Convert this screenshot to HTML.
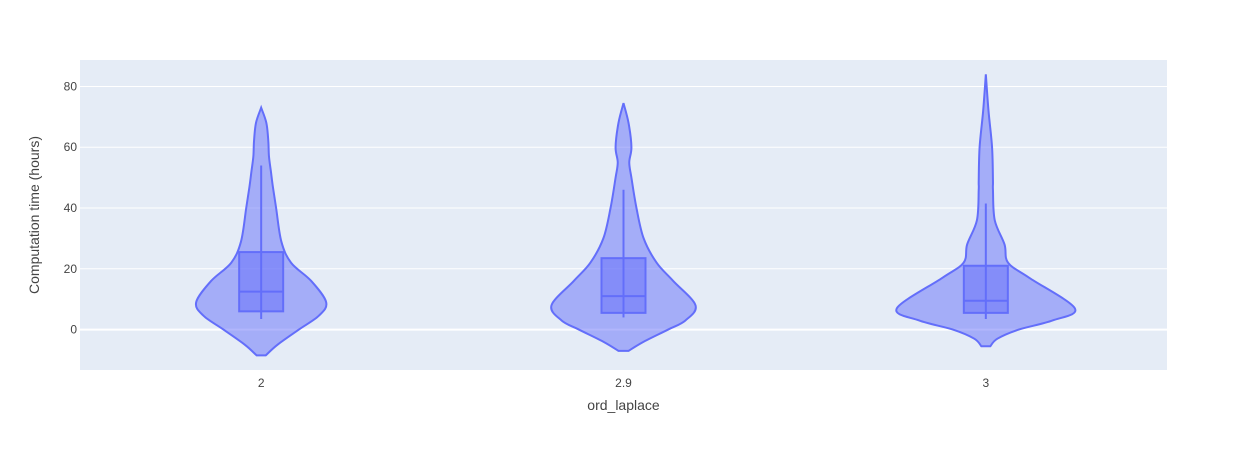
<!DOCTYPE html>
<html><head><meta charset="utf-8"><style>
body{margin:0;background:#fff;font-family:"Liberation Sans",Arial,sans-serif}
svg text{font-family:"Liberation Sans",Arial,sans-serif;fill:#444}
</style></head><body>
<svg id="chart" width="1247" height="450" xmlns="http://www.w3.org/2000/svg">
<rect x="0" y="0" width="1247" height="450" fill="#fff"/>
<rect x="80" y="60" width="1087" height="310" fill="#e5ecf6"/>
<g id="grid"></g><g id="violins"></g><g id="axes"></g>
</svg>
<script>
const categories = ["2", "2.9", "3"];
const yTicks = [0, 20, 40, 60, 80];
// density profiles: value levels and relative half-widths (0..1)
const prof2Vals = [73, 68, 62, 57, 52, 47, 40, 29, 22, 16, 9, 4.6, 0, -5, -8.5];
const prof2Dens = [0, 0.08, 0.11, 0.12, 0.15, 0.18, 0.23, 0.31, 0.46, 0.77, 1, 0.89, 0.58, 0.25, 0.07];
const prof29Vals = [74.5, 68, 60, 55, 50, 40, 30, 22, 16, 8, 3, 0, -4, -7];
const prof29Dens = [0, 0.07, 0.11, 0.08, 0.11, 0.18, 0.28, 0.46, 0.69, 1, 0.86, 0.62, 0.28, 0.07];
const prof3Vals = [84, 72, 60, 49, 46, 36, 28, 22, 17, 7, 3, 0, -3, -5.5];
const prof3Dens = [0, 0.03, 0.07, 0.08, 0.08, 0.1, 0.21, 0.25, 0.49, 1, 0.75, 0.37, 0.13, 0.05];
const maxHalfWidth = [65, 72, 89];
const q1 = [6, 5.5, 5.5];
const medians = [12.5, 11, 9.5];
const q3 = [25.5, 23.5, 21];
const lowerFence = [3.5, 4, 3.5];
const upperFence = [54, 46, 41.5];

const NS="http://www.w3.org/2000/svg";
const x0=80,x1=1167,yMin=-13.3,yMax=88.7,py0=370,py1=60;
const xPos=i=>x0+(x1-x0)*(i+0.5)/categories.length;
const yPos=v=>py0-(v-yMin)/(yMax-yMin)*(py0-py1);
function mk(tag,attrs,parent){const e=document.createElementNS(NS,tag);for(const k in attrs)e.setAttribute(k,attrs[k]);parent.appendChild(e);return e;}
const grid=document.getElementById('grid'),vg=document.getElementById('violins'),ax=document.getElementById('axes');
yTicks.forEach(t=>{
  const l=mk('line',{x1:x0,x2:x1,y1:yPos(t),y2:yPos(t),stroke:'#fff','stroke-width':t===0?2:1},grid);
  
  
  const tx=mk('text',{x:x0-3,y:yPos(t)+4,'text-anchor':'end','font-size':12},ax);
  tx.textContent=t;
  
  
});
function curve(pts){
  let d='M'+pts[0][0]+','+pts[0][1];
  for(let i=0;i<pts.length-1;i++){
    const p0=pts[Math.max(i-1,0)],p1=pts[i],p2=pts[i+1],p3=pts[Math.min(i+2,pts.length-1)];
    const c1=[p1[0]+(p2[0]-p0[0])/6,p1[1]+(p2[1]-p0[1])/6],c2=[p2[0]-(p3[0]-p1[0])/6,p2[1]-(p3[1]-p1[1])/6];
    d+=` C${c1[0]},${c1[1]} ${c2[0]},${c2[1]} ${p2[0]},${p2[1]}`;
  }
  return d;
}
const profs=[[prof2Vals,prof2Dens],[prof29Vals,prof29Dens],[prof3Vals,prof3Dens]];
categories.forEach((c,i)=>{
  const cx=xPos(i),[vals,dens]=profs[i],w=maxHalfWidth[i];
  const right=vals.map((v,k)=>[cx+dens[k]*w,yPos(v)]);
  const left=vals.map((v,k)=>[cx-dens[k]*w,yPos(v)]).reverse();
  const d=curve(right)+' L'+left[0][0]+','+left[0][1]+curve(left).slice(curve(left).indexOf(' C'))+'Z';
  const p=mk('path',{d:d,fill:'rgba(99,110,250,0.5)',stroke:'#636efa','stroke-width':2},vg);
  
  
  const wl=mk('line',{x1:cx,x2:cx,y1:yPos(lowerFence[i]),y2:yPos(upperFence[i]),stroke:'#636efa','stroke-width':2},vg);
  
  
  const bw=22;
  const b=mk('rect',{x:cx-bw,y:yPos(q3[i]),width:2*bw,height:yPos(q1[i])-yPos(q3[i]),fill:'rgba(99,110,250,0.5)',stroke:'#636efa','stroke-width':2},vg);
  
  
  const m=mk('line',{x1:cx-bw,x2:cx+bw,y1:yPos(medians[i]),y2:yPos(medians[i]),stroke:'#636efa','stroke-width':2},vg);
  
  
  const tx=mk('text',{x:cx,y:387,'text-anchor':'middle','font-size':12},ax);
  tx.textContent=c;
  
  
});
const xt=mk('text',{x:623.5,y:410,'text-anchor':'middle','font-size':14},ax);
xt.textContent='ord_laplace';


const yt=mk('text',{x:0,y:0,'text-anchor':'middle','font-size':14,transform:'translate(39,215) rotate(-90)'},ax);
yt.textContent='Computation time (hours)';


</script>
</body></html>
